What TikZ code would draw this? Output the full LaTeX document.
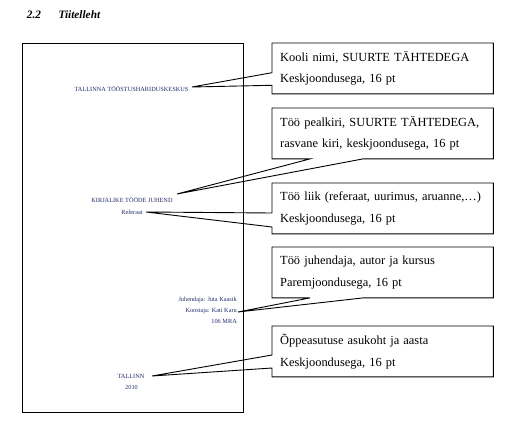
\documentclass[tikz,border=0pt]{standalone}
\usepackage{fontspec}
\setmainfont{Liberation Serif}
\usetikzlibrary{calc}
\definecolor{pagetext}{RGB}{35,45,105}

\begin{document}
\begin{tikzpicture}[x=1pt, y=-1pt,
	pagetxt/.style={font=\fontsize{6.3}{7}\selectfont, text=pagetext, inner sep=0pt},
	callbox/.style={anchor=north west, minimum width=221pt, minimum height=50.5pt, text width=205pt, inner xsep=8pt, inner ysep=0pt, align=left, font=\fontsize{12.4}{21.7}\selectfont, execute at begin node={\hyphenpenalty=10000\relax}},
	callline/.style={line width=0.9pt}]
	\useasboundingbox (0,0) rectangle (508,425);
	% heading
	\node[anchor=base west, inner sep=0pt, font=\fontsize{11.3}{13}\selectfont\bfseries\itshape] (head) at (26.7,18.5) {2.2\hskip 17.5pt Tiitelleht};
	% the page
	\draw[line width=0.9pt] (22,43) rectangle (243,412);
	\node[pagetxt, anchor=base] (kool) at (131.5,91.5) {TALLINNA TÖÖSTUSHARIDUSKESKUS};
	\node[pagetxt, anchor=base] (pealk) at (132,202.7) {KIRJALIKE TÖÖDE JUHEND};
	\node[pagetxt, anchor=base] (liik) at (132,214) {Referaat};
	\node[pagetxt, anchor=base east] (juh) at (237,301.5) {Juhendaja: Juta Kaasik};
	\node[pagetxt, anchor=base east] (koost) at (237,312.7) {Koostaja: Kati Karu};
	\node[pagetxt, anchor=base east] (kursus) at (237,323.3) {106 MRA};
	\node[pagetxt, anchor=base] (linn) at (131,378.5) {TALLINN};
	\node[pagetxt, anchor=base] (aasta) at (131.5,389.5) {2010};
	% callout tips
	\coordinate (t1) at (192,87);
	\coordinate (t2) at (177,194);
	\coordinate (t3) at (146,212);
	\coordinate (t4) at (238,312);
	\coordinate (t5) at (152,376);
	% callouts
	\node[callbox] (b1) at (272,43) {Kooli nimi, SUURTE TÄHTEDEGA\\Keskjoondusega, 16 pt};
	\node[callbox] (b2) at (272,108) {Töö pealkiri, SUURTE TÄHTEDEGA,\\rasvane kiri, keskjoondusega, 16 pt};
	\node[callbox] (b3) at (272,183) {Töö liik (referaat, uurimus, aruanne,…)\\Keskjoondusega, 16 pt};
	\node[callbox] (b4) at (272,247) {Töö juhendaja, autor ja kursus\\Paremjoondusega, 16 pt};
	\node[callbox] (b5) at (272,326) {Õppeasutuse asukoht ja aasta\\Keskjoondusega, 16 pt};
	\draw[callline] (b1.north west) -- (b1.north east) -- (b1.south east) -- (b1.south west) -- ($(b1.north west)+(0,42.3)$) -- (t1) -- ($(b1.north west)+(0,29.7)$) -- cycle;
	\draw[callline] (b2.north west) -- (b2.north east) -- (b2.south east) -- ($(b2.south west)+(91,0)$) -- (t2) -- ($(b2.south west)+(38,0)$) -- (b2.south west) -- cycle;
	\draw[callline] (b3.north west) -- (b3.north east) -- (b3.south east) -- (b3.south west) -- ($(b3.north west)+(0,44)$) -- (t3) -- ($(b3.north west)+(0,30)$) -- cycle;
	\draw[callline] (b4.north west) -- (b4.north east) -- (b4.south east) -- ($(b4.south west)+(91,0)$) -- (t4) -- ($(b4.south west)+(38,0)$) -- (b4.south west) -- cycle;
	\draw[callline] (b5.north west) -- (b5.north east) -- (b5.south east) -- (b5.south west) -- ($(b5.north west)+(0,42)$) -- (t5) -- ($(b5.north west)+(0,29)$) -- cycle;
\end{tikzpicture}
\end{document}
